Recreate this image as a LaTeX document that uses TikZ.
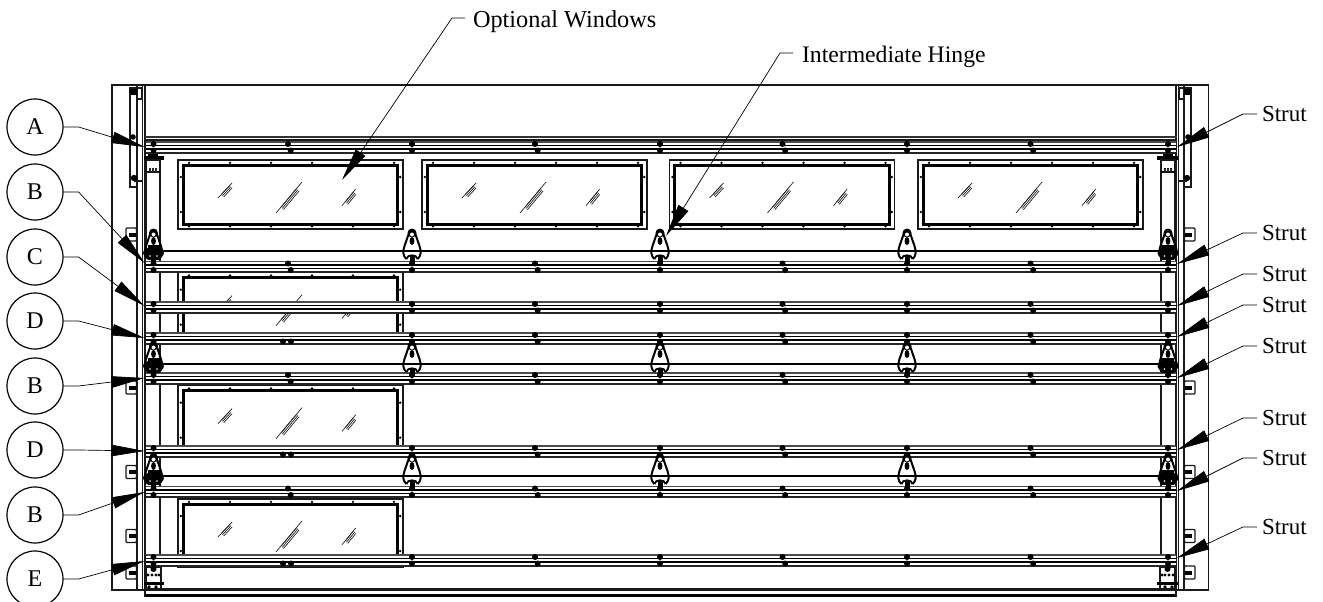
\documentclass[tikz,border=0pt]{standalone}
\usepackage{fontspec}
\setmainfont{Liberation Serif}
\usetikzlibrary{arrows.meta}
\tikzset{
  edge/.style={draw=black!90,line width=1.3pt},
  heavy/.style={draw=black,line width=2.4pt},
  thinl/.style={draw=black!85,line width=0.7pt},
  callout/.style={draw=black,line width=1.2pt,circle,minimum size=56pt,inner sep=0pt,font=\fontsize{24}{24}\selectfont},
  lab/.style={anchor=west,inner sep=0pt,outer sep=0pt,text height=15pt,text depth=0pt,font=\fontsize{23}{23}\selectfont},
  toplab/.style={anchor=west,inner sep=0pt,outer sep=0pt,text height=19pt,text depth=0pt},
  leader/.style={draw=black,line width=0.7pt,-{Triangle[length=33pt,width=11.5pt]}},
}
% window: left x, top y, height
\newcommand{\winbox}[3]{%
  \draw[edge,line width=1.5pt,fill=white] (#1,#2) rectangle (#1+225,#2+#3);
  \draw[heavy,line width=3pt] (#1+5.3,#2+5.2) rectangle (#1+219.7,#2+#3-5);
  \foreach \dx in {11,52,93,134,175,216}{
    \fill (#1+\dx,#2+2.8) circle[radius=1.3pt];
    \fill (#1+\dx,#2+#3-2.6) circle[radius=1.3pt];
  }
  \foreach \dy in {17,52}{
    \fill (#1+2.8,#2+\dy) circle[radius=1.3pt];
    \fill (#1+222.2,#2+\dy) circle[radius=1.3pt];
  }
  \foreach \ox/\oy/\ux/\uy in {40/38/14/15,98/53/26/31,164/45.7/13.7/16.7}{
    \draw[thinl] (#1+\ox,#2+\oy) -- ++(\ux,-\uy);
    \foreach \kk in {1,2,3}{
      \draw[thinl] (#1+\ox+\ux*.15+\kk*1.2,#2+\oy-\uy*.15+\kk*1.2-2.4) -- ++(\ux*.6,-\uy*.6);
    }
  }
}
% strut: top y, type 0 normal, 1 none, 2 paired
\newcommand{\dstrut}[2]{%
  \fill[white] (146,#1) rectangle (1176,#1+11);
  \draw[draw=black!70,line width=1.6pt] (146,#1) -- (1176,#1);
  \draw[draw=black,line width=1.6pt] (146,#1+3.6) -- (1176,#1+3.6);
  \draw[draw=black,line width=1.6pt] (146,#1+7) -- (1176,#1+7);
  \draw[draw=black!85,line width=2pt] (146,#1+10.8) -- (1176,#1+10.8);
  \foreach \bx in {153.5,412,660,907,1168}{
    \fill (\bx,#1+2) circle[radius=3pt];
    \fill (\bx,#1+8.5) circle[radius=3pt];
  }
  \foreach \bx in {535,782.5,1030.5}{
    \fill (\bx,#1+2) circle[radius=3pt];
    \fill (\bx+2.7,#1+8.5) circle[radius=3pt];
  }
  \ifcase#2\relax
    \fill (288,#1+2) circle[radius=3pt];
    \fill (290.7,#1+8.5) circle[radius=3pt];
  \or
  \or
    \fill (283,#1+8.5) circle[radius=3pt];
    \fill (291,#1+8.5) circle[radius=3pt];
  \fi
}
% hinge: centre x, y of the heavy rail
\newcommand{\hingeat}[2]{%
  \draw[draw=black,line width=2pt] (#1-3,#2-18) -- (#1-7.5,#2-5) .. controls (#1-9.5,#2+1) and (#1-9,#2+5) .. (#1-5.5,#2+8)
    (#1+3,#2-18) -- (#1+7.5,#2-5) .. controls (#1+9.5,#2+1) and (#1+9,#2+5) .. (#1+5.5,#2+8);
  \fill (#1,#2-18) circle[radius=4.5pt];
  \fill[white] (#1,#2-16.5) circle[radius=2pt];
  \fill (#1,#2-10) ellipse[x radius=2.4pt,y radius=4pt];
  \draw[draw=black,line width=1.8pt] (#1-5.5,#2+8) .. controls (#1-5,#2+3) and (#1+5,#2+3) .. (#1+5.5,#2+8);
  \fill (#1-2.5,#2+5) rectangle (#1+2.5,#2+13);
}
% end hinge at the door edge
\newcommand{\edgehinge}[2]{%
  \hingeat{#1}{#2}
  \fill (#1,#2+2) ellipse[x radius=10.5pt,y radius=6pt];
  \fill (#1-6,#2-6) rectangle (#1+6,#2+9);
  \foreach \dx in {-3.5,3.5}{
    \fill[white] (#1+\dx,#2-8) circle[radius=1.4pt];
    \fill[white] (#1+\dx,#2+5) circle[radius=0.8pt];
  }
}
% small side bracket on the frame: top y
\newcommand{\sidebox}[1]{%
  \draw[edge,rounded corners=1pt,fill=white] (126,#1) rectangle (136.5,#1+13);
  \fill (129,#1+4.5) rectangle (136,#1+8.5);
}
\begin{document}
\begin{tikzpicture}[x=1pt,y=-1pt]
\useasboundingbox (0,0) rectangle (1323,602);
\fill[white] (0,0) rectangle (1323,602);

% windows
\foreach \wx in {178,422,669.5,918}{\winbox{\wx}{160}{69}}
\winbox{178}{272.7}{70}
\winbox{178}{385.7}{70}
\winbox{178}{499}{66}
\draw[edge,line width=1.7pt] (178,564) -- (178,567.5) -- (403,567.5) -- (403,564);

% frame and tracks
\draw[edge] (112,85) rectangle (1208.5,590);
\foreach \vx in {0,1}{
\begin{scope}[shift={(\vx*1321,0)},xscale=1-2*\vx]
  \draw[edge] (137,85) -- (137,590);
  \draw[edge] (142.7,85) -- (142.7,590);
  \draw[edge,line width=1.6pt] (145,85) -- (145,597);
  \draw[edge] (160,172) -- (160,566);
  \draw[edge] (146,172) -- (146,250);
  % top slot
  \draw[edge,line width=1.6pt] (130,88) rectangle (137,187);
  \draw[edge,line width=1.1pt] (137,88) rectangle (141.5,99);
  \fill (130,89) rectangle (137,95);
  \fill (133,137) circle[radius=2.8pt];
  \fill (134,178) circle[radius=3.2pt];
  \draw[edge] (134,181) -- (142,181);
  \draw[edge] (130,187) -- (137,187);
  % top bracket
  \fill (143.5,156) rectangle (164,160);
  \fill (148,152) rectangle (158,157);
  \draw[edge,fill=white] (146,160) rectangle (160,172);
  \draw[heavy,line width=1.6pt] (146,171.5) -- (160,171.5);
  \foreach \dx in {150,153,156}{\draw[thinl,line width=1.1pt] (\dx,168) -- (\dx,172);}
  % side brackets
  \foreach \sy in {228,381,465.5,529.5,566}{\sidebox{\sy}}
\end{scope}}

% struts
\draw[draw=black!80,line width=1.9pt] (145,137) -- (1177,137);
\draw[edge] (145,140) -- (1177,140);
\dstrut{142}{0}
\dstrut{261.5}{0}
\dstrut{302}{1}
\dstrut{333}{2}
\dstrut{373}{0}
\dstrut{446}{2}
\dstrut{486.5}{0}
\dstrut{555}{2}

% heavy rails
\foreach \ry in {251,364,476}{\draw[heavy,line width=2pt] (146,\ry) -- (1176,\ry);}
\foreach \ry in {251,364,476}{
  \foreach \hx in {412,660,907}{\hingeat{\hx}{\ry}}
  \edgehinge{153.5}{\ry}
  \edgehinge{1168}{\ry}
}

% bottom
\draw[edge] (145,589) -- (1177,589);
\draw[heavy,line width=2.6pt] (145,595.5) -- (1177,595.5);
\foreach \vx in {0,1}{
\begin{scope}[shift={(\vx*1321,0)},xscale=1-2*\vx]
  \draw[edge,fill=white] (146,567) rectangle (161,589);
  \foreach \dx in {148,152,156,159}{\fill (\dx,575) circle[radius=1.7pt];}
  \fill (153.5,569) circle[radius=3pt];
  \fill (143.5,582) rectangle (164,584.5);
  \foreach \dx in {149,156}{\fill (\dx,587) circle[radius=1.8pt];}
\end{scope}}
\draw[edge,line width=1.6pt] (1176.5,590) -- (1176.5,597);

% left call-outs
\foreach \n/\ltr/\cy/\ty in {a/A/127/147,b/B/192/263,c/C/257/306,d/D/321/338,e/B/386/378,f/D/450/451,g/B/515/492,h/E/579/561}{
  \node[callout] (c\n) at (35,\cy) {\ltr};
  \coordinate (t\n) at (144.5,\ty);
  \draw[leader] (c\n.east) -- ++(15,0) -- (t\n);
}
% right labels
\foreach \n/\cy/\ty in {1/114/147,2/233/264,3/274/306,4/305/337,5/346/378,6/418/450,7/458/491,8/527/558}{
  \node[lab] (s\n) at (1262,\cy) {Strut};
  \coordinate (u\n) at (1177,\ty);
  \draw[leader] ([xshift=-5pt]s\n.west) -- ++(-14,0) -- (u\n);
}
% top labels
\node[toplab,font=\fontsize{24.3}{24}\selectfont] (opt) at (473,18) {Optional Windows};
\coordinate (topt) at (342,180);
\draw[leader] ([xshift=-8pt]opt.west) -- ++(-13,0) -- (topt);
\node[toplab,font=\fontsize{23.7}{24}\selectfont] (ihg) at (802,53) {Intermediate Hinge};
\coordinate (tihg) at (666,236);
\draw[leader] ([xshift=-9pt]ihg.west) -- ++(-13,0) -- (tihg);
\end{tikzpicture}
\end{document}
